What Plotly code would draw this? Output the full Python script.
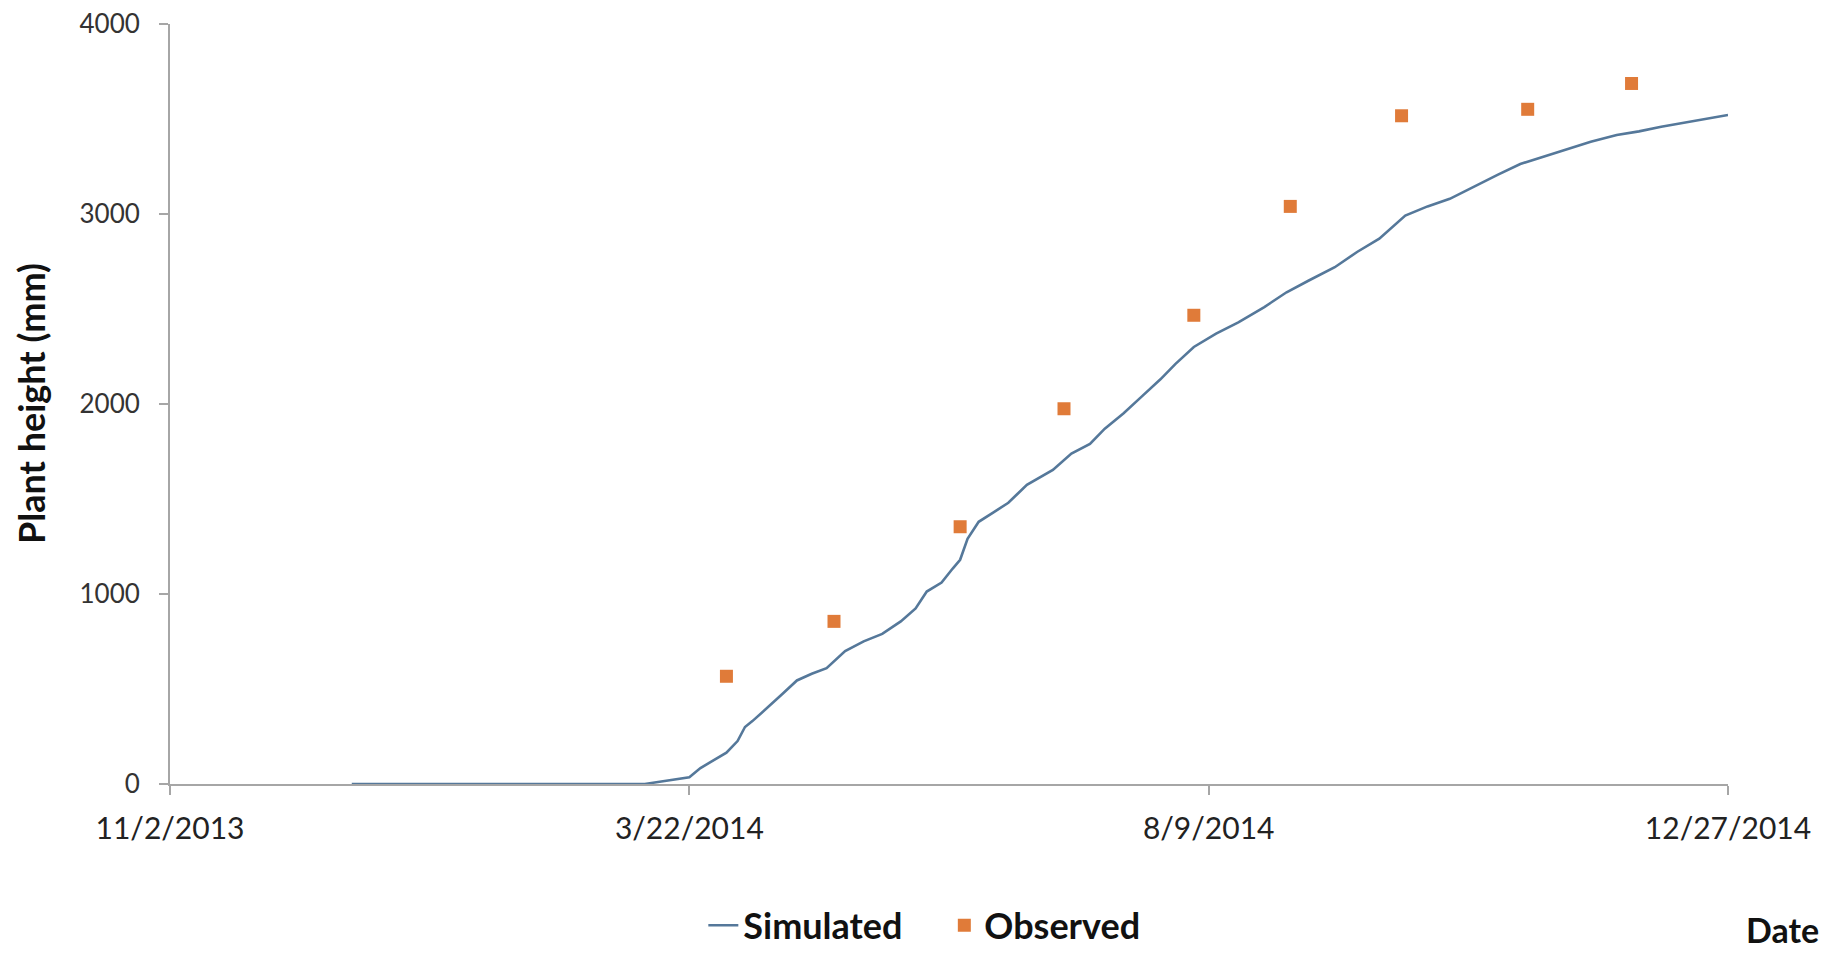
import plotly.graph_objects as go

# Simulated plant height (mm)
sim_dates = [
    "2013-12-21", "2014-03-10", "2014-03-14", "2014-03-18", "2014-03-22", "2014-03-25",
    "2014-03-29", "2014-04-01", "2014-04-04", "2014-04-06", "2014-04-08", "2014-04-12",
    "2014-04-16", "2014-04-20", "2014-04-24", "2014-04-28", "2014-05-03", "2014-05-08",
    "2014-05-13", "2014-05-18", "2014-05-22", "2014-05-25", "2014-05-29", "2014-06-01",
    "2014-06-03", "2014-06-05", "2014-06-08", "2014-06-12", "2014-06-16", "2014-06-21",
    "2014-06-28", "2014-07-03", "2014-07-08", "2014-07-12", "2014-07-17", "2014-07-22",
    "2014-07-27", "2014-07-31", "2014-08-05", "2014-08-11", "2014-08-17", "2014-08-24",
    "2014-08-30", "2014-09-05", "2014-09-12", "2014-09-18", "2014-09-24", "2014-10-01",
    "2014-10-07", "2014-10-13", "2014-10-20", "2014-10-26", "2014-11-01", "2014-11-08",
    "2014-11-14", "2014-11-20", "2014-11-27", "2014-12-03", "2014-12-09", "2014-12-16",
    "2014-12-22", "2014-12-27",
]
sim_values = [
    0, 0, 12, 25, 35, 84,
    130, 165, 226, 300, 331, 400,
    472, 545, 580, 610, 700, 751,
    790, 856, 924, 1013, 1060, 1134,
    1180, 1291, 1380, 1430, 1480, 1575,
    1653, 1739, 1790, 1870, 1950, 2040,
    2130, 2210, 2300, 2370, 2430, 2510,
    2588, 2650, 2720, 2800, 2870, 2992,
    3040, 3080, 3150, 3207, 3263, 3306,
    3343, 3380, 3416, 3435, 3459, 3484,
    3502, 3521,
]

# Observed plant height (mm)
obs_dates = ["2014-04-01", "2014-04-30", "2014-06-03", "2014-07-01", "2014-08-05",
             "2014-08-31", "2014-09-30", "2014-11-03", "2014-12-01"]
obs_values = [567, 856, 1354, 1975, 2467, 3040, 3517, 3551, 3687]

# Axis ticks
x_tickvals = ["2013-11-02", "2014-03-22", "2014-08-09", "2014-12-27"]
x_ticktext = ["11/2/2013", "3/22/2014", "8/9/2014", "12/27/2014"]
y_tickvals = [0, 1000, 2000, 3000, 4000]

FONT = "Lato, 'Open Sans', sans-serif"

fig = go.Figure()
fig.add_trace(go.Scatter(
    x=sim_dates, y=sim_values, mode="lines", name="Simulated",
    line=dict(color="#55789a", width=2.6),
))
fig.add_trace(go.Scatter(
    x=obs_dates, y=obs_values, mode="markers", name="Observed",
    marker=dict(symbol="square", size=13, color="#e07b39"),
))

fig.update_layout(
    width=1835, height=953,
    paper_bgcolor="white", plot_bgcolor="white",
    margin=dict(l=162, r=115, t=16, b=177, autoexpand=False),
    font=dict(family=FONT, color="#222222"),
    showlegend=True,
    legend=dict(
        orientation="h", x=0.497, xanchor="center", y=-0.186, yanchor="middle",
        font=dict(size=36, family=FONT, color="#111111", weight="bold"),
        tracegroupgap=0, entrywidth=196, entrywidthmode="pixels",
    ),
    xaxis=dict(
        type="date", range=["2013-11-02", "2014-12-27"],
        tickvals=x_tickvals, ticktext=x_ticktext,
        showgrid=False, zeroline=False, automargin=False,
        showline=True, linecolor="#a6a6a6", linewidth=2,
        ticks="outside", ticklen=9, tickcolor="#a6a6a6", tickwidth=2,
        ticklabelstandoff=8, ticklabeloverflow="allow",
        tickfont=dict(size=30, family=FONT, color="#222222"),
    ),
    yaxis=dict(
        range=[0, 4000], tickvals=y_tickvals,
        showgrid=False, zeroline=False, automargin=False,
        showline=True, linecolor="#a6a6a6", linewidth=2,
        ticks="outside", ticklen=9, tickcolor="#a6a6a6", tickwidth=2,
        ticklabelstandoff=14, ticklabeloverflow="allow",
        tickfont=dict(size=26, family=FONT, color="#333333"),
    ),
    annotations=[
        dict(
            text="Plant height (mm)", xref="paper", yref="paper", x=0, y=0.5,
            xshift=-139, xanchor="center", yanchor="middle", textangle=-90,
            showarrow=False,
            font=dict(size=36, family=FONT, color="#111111", weight="bold"),
        ),
        dict(
            text="Date", xref="paper", yref="paper", x=1.06, y=-0.192,
            xanchor="right", yanchor="middle", showarrow=False,
            font=dict(size=34, family=FONT, color="#111111", weight="bold"),
        ),
    ],
)

fig.write_html("out.html")
